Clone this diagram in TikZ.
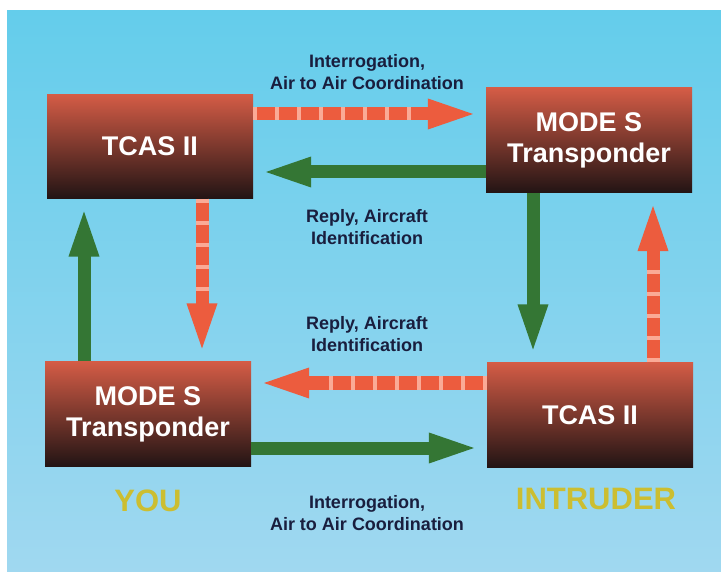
\documentclass[tikz,border=0pt]{standalone}
\usepackage{fontspec}
\setmainfont{Liberation Sans}
\usetikzlibrary{arrows.meta,calc}
\definecolor{bgtop}{RGB}{100,205,235}
\definecolor{bgbot}{RGB}{160,216,240}
\definecolor{boxtop}{RGB}{212,92,70}
\definecolor{boxmid}{RGB}{120,52,42}
\definecolor{boxbot}{RGB}{34,20,20}
\definecolor{redc}{RGB}{236,92,62}
\definecolor{redlight}{RGB}{250,170,150}
\definecolor{greenc}{RGB}{52,118,52}
\definecolor{lblc}{RGB}{25,30,62}
\definecolor{yelc}{RGB}{204,190,48}
\begin{document}
\begin{tikzpicture}[x=1pt,y=-1pt,
  unit/.style={rectangle, minimum width=206pt, minimum height=104pt, inner sep=0pt,
    top color=boxtop, middle color=boxmid, bottom color=boxbot,
    text=white, font=\bfseries\fontsize{27}{31}\selectfont, align=center},
  lbl/.style={text=lblc, font=\bfseries\fontsize{18}{22}\selectfont, align=center, inner sep=0pt},
  redarrow/.style={draw=redc, line width=13pt, shorten >=6pt, -{Triangle[width=26pt,length=52pt]}},
  reddots/.style={draw=redlight, line width=13pt, dash pattern=on 4pt off 18pt, shorten >=60pt},
  greenarrow/.style={draw=greenc, line width=13pt, shorten >=6pt, -{Triangle[width=26pt,length=52pt]}},
  tag/.style={text=yelc, font=\bfseries\fontsize{31}{31}\selectfont, inner sep=0pt}
]
\useasboundingbox (0,0) rectangle (721,572);
\fill[white] (0,0) rectangle (721,572);
\shade[top color=bgtop, bottom color=bgbot] (7,11) rectangle (721,572);

% guide coordinates
\coordinate (yT1) at (0,114);
\coordinate (yT2) at (0,172);
\coordinate (yB1) at (0,383);
\coordinate (yB2) at (0,448);
\coordinate (xL1) at (84,0);
\coordinate (xL2) at (202,0);
\coordinate (xR1) at (533,0);
\coordinate (xR2) at (653,0);

% units
\node[unit] (tcasA) at (150,146.5) {TCAS II};
\node[unit, minimum height=105pt] (modeB) at (589,140.5) {MODE S\\Transponder};
\node[unit, minimum height=105pt] (modeA) at (148,414) {MODE S\\Transponder};
\node[unit, minimum height=105pt] (tcasB) at (590,415) {TCAS II};

% horizontal arrows
\draw[redarrow] (tcasA.east |- yT1) -- (modeB.west |- yT1);
\draw[reddots] (tcasA.east |- yT1) -- (modeB.west |- yT1);
\draw[greenarrow] (modeB.west |- yT2) -- (tcasA.east |- yT2);
\draw[redarrow] (tcasB.west |- yB1) -- (modeA.east |- yB1);
\draw[reddots] (tcasB.west |- yB1) -- (modeA.east |- yB1);
\draw[greenarrow] (modeA.east |- yB2) -- (tcasB.west |- yB2);

% vertical arrows
\draw[greenarrow] (modeA.north -| xL1) -- (tcasA.south -| xL1);
\draw[redarrow] (tcasA.south -| xL2) -- (modeA.north -| xL2);
\draw[reddots] (tcasA.south -| xL2) -- (modeA.north -| xL2);
\draw[greenarrow] (modeB.south -| xR1) -- (tcasB.north -| xR1);
\draw[redarrow] (tcasB.north -| xR2) -- (modeB.south -| xR2);
\draw[reddots] (tcasB.north -| xR2) -- (modeB.south -| xR2);

% labels
\node[lbl] (l1) at (367,72) {Interrogation,\\Air to Air Coordination};
\node[lbl] (l2) at (367,227) {Reply, Aircraft\\Identification};
\node[lbl] (l3) at (367,334) {Reply, Aircraft\\Identification};
\node[lbl] (l4) at (367,513) {Interrogation,\\Air to Air Coordination};

% tags
\node[tag] (you) at (148,501) {YOU};
\node[tag] (intr) at (596,499) {INTRUDER};
\end{tikzpicture}
\end{document}
